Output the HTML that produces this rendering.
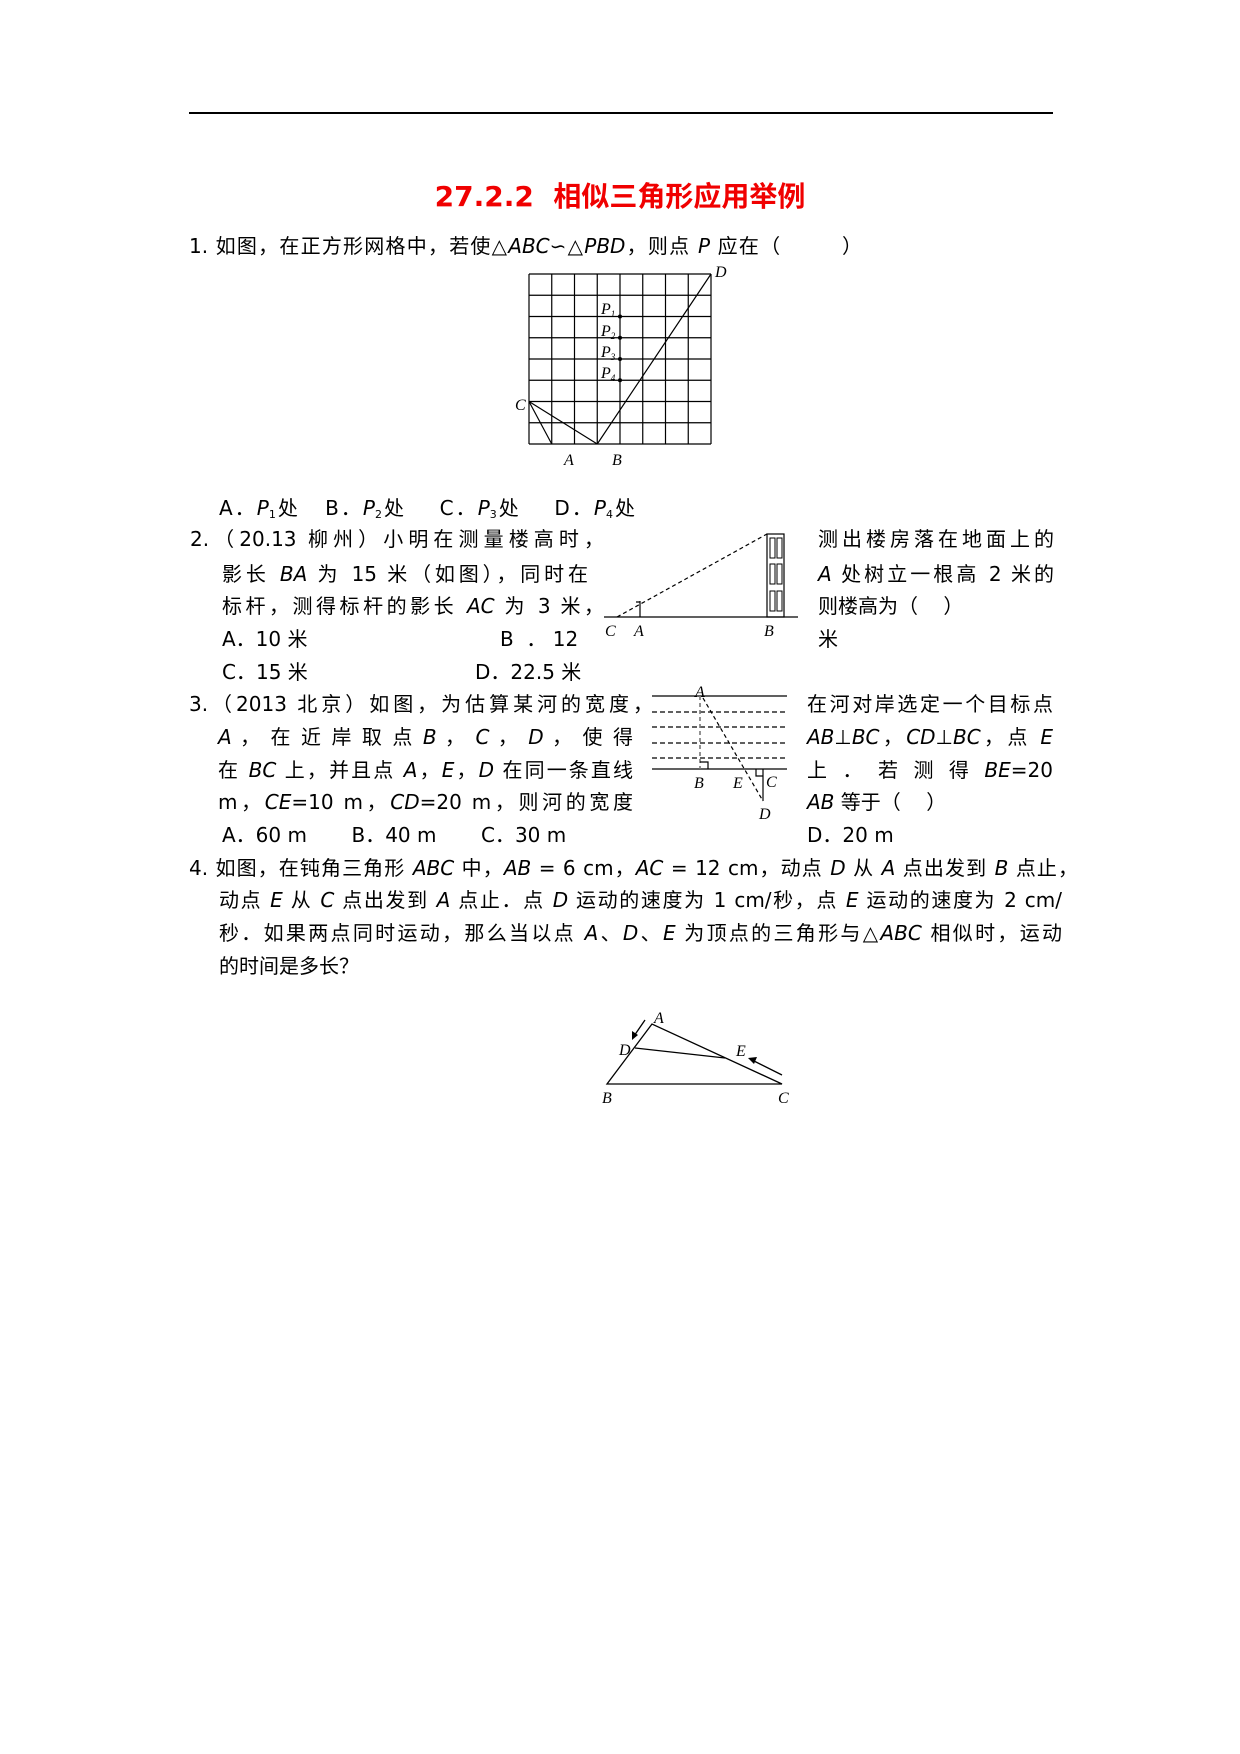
<!DOCTYPE html>
<html><head><meta charset="utf-8"><style>
body{margin:0;background:#fff;}
#p{position:relative;width:1240px;height:1754px;overflow:hidden;font-family:"DejaVu Sans","Noto Sans CJK SC",sans-serif;font-size:20px;color:#000;}
.t{position:absolute;white-space:nowrap;line-height:24px;}
.j{position:absolute;white-space:nowrap;line-height:24px;text-align:justify;text-align-last:justify;}
i{font-style:italic;}
sub{font-size:11px;vertical-align:-3px;}
svg{position:absolute;left:0;top:0;}
.s{font-family:"Liberation Serif",serif;font-style:italic;font-size:16px;}
</style></head><body><div id="p">
<div style="position:absolute;left:189px;top:112px;width:864px;height:2px;background:#000"></div>
<div class="t" style="left:0;width:1240px;text-align:center;top:181px;line-height:32px;font-size:28px;font-weight:bold;color:#f00000;">27.2.2&nbsp; 相似三角形应用举例</div>

<div class="j" style="left:189px;top:234px;width:673px;">1. 如图，在正方形网格中，若使△<i>ABC</i>∽△<i>PBD</i>，则点 <i>P</i> 应在（&nbsp;&nbsp;&nbsp;&nbsp;&nbsp;&nbsp;&nbsp;&nbsp;）</div>
<div class="j" style="left:219px;top:496px;width:416px;">A．<i>P</i><sub>1</sub>处&nbsp;&nbsp; B．<i>P</i><sub>2</sub>处&nbsp;&nbsp;&nbsp; C．<i>P</i><sub>3</sub>处&nbsp;&nbsp;&nbsp; D．<i>P</i><sub>4</sub>处</div>

<div class="j" style="left:190px;top:527px;width:414px;">2.（20.13 柳州）小明在测量楼高时，</div>
<div class="j" style="left:222px;top:562px;width:366px;">影长 <i>BA</i> 为 15 米（如图），同时在</div>
<div class="j" style="left:222px;top:594px;width:382px;">标杆，测得标杆的影长 <i>AC</i> 为 3 米，</div>
<div class="t" style="left:222px;top:627px;">A．10 米</div>
<div class="t" style="left:500px;top:627px;">B&nbsp; ．&nbsp;12</div>
<div class="t" style="left:222px;top:660px;">C．15 米</div>
<div class="t" style="left:475px;top:660px;">D．22.5 米</div>
<div class="j" style="left:818px;top:527px;width:236px;">测出楼房落在地面上的</div>
<div class="j" style="left:818px;top:562px;width:236px;"><i>A</i> 处树立一根高 2 米的</div>
<div class="t" style="left:818px;top:594px;">则楼高为（&nbsp;&nbsp;&nbsp;&nbsp;）</div>
<div class="t" style="left:818px;top:627px;">米</div>

<div class="j" style="left:189px;top:692px;width:464px;">3.（2013 北京）如图，为估算某河的宽度，</div>
<div class="j" style="left:218px;top:725px;width:415px;"><i>A</i> ， 在 近 岸 取 点 <i>B</i> ， <i>C</i> ， <i>D</i> ， 使 得</div>
<div class="j" style="left:218px;top:758px;width:415px;">在 <i>BC</i> 上，并且点 <i>A</i>，<i>E</i>，<i>D</i> 在同一条直线</div>
<div class="j" style="left:218px;top:790px;width:415px;">m，<i>CE</i>=10 m，<i>CD</i>=20 m，则河的宽度</div>
<div class="t" style="left:222px;top:823px;">A．60 m&nbsp;&nbsp;&nbsp;&nbsp;&nbsp;&nbsp; B．40 m&nbsp;&nbsp;&nbsp;&nbsp;&nbsp;&nbsp; C．30 m</div>
<div class="j" style="left:807px;top:692px;width:246px;">在河对岸选定一个目标点</div>
<div class="j" style="left:807px;top:725px;width:246px;"><i>AB</i>⊥<i>BC</i>，<i>CD</i>⊥<i>BC</i>，点 <i>E</i></div>
<div class="j" style="left:807px;top:758px;width:246px;">上 ． 若 测 得 <i>BE</i>=20</div>
<div class="t" style="left:807px;top:790px;"><i>AB</i> 等于（&nbsp;&nbsp;&nbsp;&nbsp;）</div>
<div class="t" style="left:807px;top:823px;">D．20 m</div>

<div class="j" style="left:189px;top:856px;width:889px;">4. 如图，在钝角三角形 <i>ABC</i> 中，<i>AB</i> = 6 cm，<i>AC</i> = 12 cm，动点 <i>D</i> 从 <i>A</i> 点出发到 <i>B</i> 点止，</div>
<div class="j" style="left:219px;top:888px;width:843px;">动点 <i>E</i> 从 <i>C</i> 点出发到 <i>A</i> 点止．点 <i>D</i> 运动的速度为 1 cm/秒，点 <i>E</i> 运动的速度为 2 cm/</div>
<div class="j" style="left:219px;top:921px;width:843px;">秒．如果两点同时运动，那么当以点 <i>A</i>、<i>D</i>、<i>E</i> 为顶点的三角形与△<i>ABC</i> 相似时，运动</div>
<div class="t" style="left:219px;top:954px;">的时间是多长？</div>

<svg width="1240" height="1754">
<g transform="translate(-4,0)">
<g stroke="#000" stroke-width="1.2" fill="none">
<path d="M533 274H715M533 295.25H715M533 316.5H715M533 337.75H715M533 359H715M533 380.25H715M533 401.5H715M533 422.75H715M533 444H715"/>
<path d="M533 274V444M555.75 274V444M578.5 274V444M601.25 274V444M624 274V444M646.75 274V444M669.5 274V444M692.25 274V444M715 274V444"/>
<path d="M533 401.5L555.75 444M533 401.5L601.25 444M601.25 444L715 274"/>
</g>
<g fill="#000"><circle cx="624" cy="316.5" r="2"/><circle cx="624" cy="337.75" r="2"/><circle cx="624" cy="359" r="2"/><circle cx="624" cy="380.25" r="2"/></g>
<text class="s" x="719" y="277">D</text>
<text class="s" x="519" y="410">C</text>
<text class="s" x="568" y="465">A</text>
<text class="s" x="616" y="465">B</text>
<text class="s" x="605" y="314">P<tspan font-size="9" dy="3">1</tspan></text>
<text class="s" x="605" y="336">P<tspan font-size="9" dy="3">2</tspan></text>
<text class="s" x="605" y="357">P<tspan font-size="9" dy="3">3</tspan></text>
<text class="s" x="605" y="378">P<tspan font-size="9" dy="3">4</tspan></text>
</g>

<g stroke="#000" stroke-width="1.2" fill="none">
<path d="M604 617H798"/>
<path d="M640 617V601M636 602H640"/>
<path d="M617 617L767 534" stroke-dasharray="4 3"/>
<rect x="767" y="534" width="17" height="83"/>
<path d="M770 538h5v20h-5zM777 538h5v20h-5zM770 564h5v20h-5zM777 564h5v20h-5zM770 591h5v20h-5zM777 591h5v20h-5z" stroke-width="1"/>
</g>
<text class="s" x="605" y="636">C</text>
<text class="s" x="634" y="636">A</text>
<text class="s" x="764" y="636">B</text>

<g stroke="#000" stroke-width="1.2" fill="none">
<path d="M652 696H787M652 769H787"/>
<path d="M652 712H787M652 727H787M652 743H787M652 758H787" stroke-dasharray="5 3"/>
<path d="M700 696V769" stroke-dasharray="4 3" stroke="#777" stroke-width="1.6"/>
<path d="M700 762H708V769"/>
<path d="M763 769V801M756 769V776H763"/>
<path d="M703 698L763 801" stroke-dasharray="4 3"/>
</g>
<text class="s" x="695" y="697">A</text>
<text class="s" x="694" y="788">B</text>
<text class="s" x="733" y="788">E</text>
<text class="s" x="766" y="787">C</text>
<text class="s" x="759" y="819">D</text>

<g stroke="#000" stroke-width="1.3" fill="none">
<path d="M652 1024L607 1084H782Z"/>
<path d="M635 1048L725 1058"/>
<path d="M645 1020L634 1036M782 1075L752 1060"/>
</g>
<path d="M632 1040l0-9 6 4z" fill="#000"/>
<path d="M748 1058l9-1-3 7z" fill="#000"/>
<text class="s" x="654" y="1023">A</text>
<text class="s" x="619" y="1055">D</text>
<text class="s" x="736" y="1056">E</text>
<text class="s" x="602" y="1103">B</text>
<text class="s" x="778" y="1103">C</text>
</svg>
</div></body></html>
